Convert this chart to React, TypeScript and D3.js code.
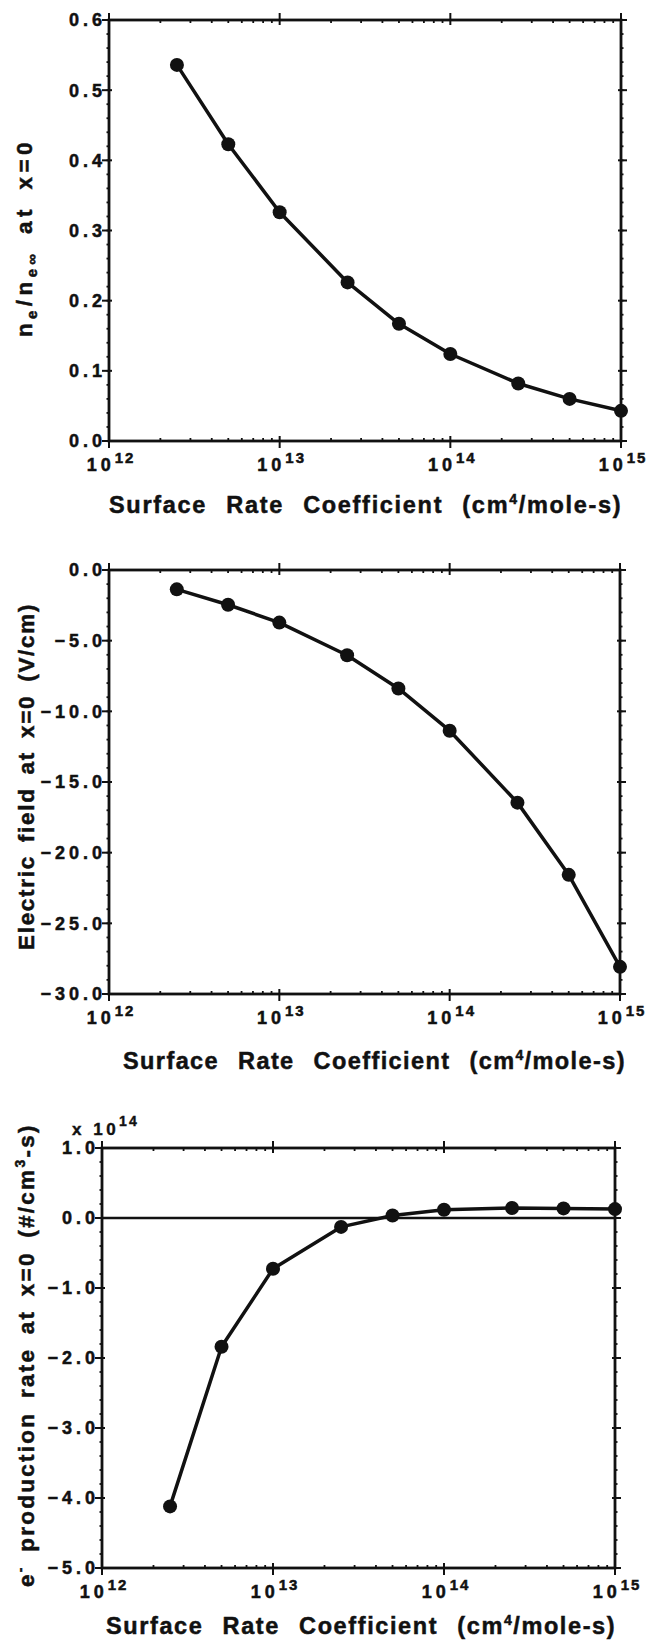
import React from 'react';
import * as d3 from 'd3';

// ---- data ----
const rateCoefficients = [2.5e12, 5e12, 1e13, 2.5e13, 5e13, 1e14, 2.5e14, 5e14, 1e15];
const densityRatio = [0.536, 0.423, 0.326, 0.226, 0.167, 0.124, 0.082, 0.06, 0.043];
const electricField = [-1.37, -2.46, -3.72, -6.03, -8.38, -11.37, -16.46, -21.57, -28.08];
const productionRate = [-4.12, -1.84, -0.726, -0.127, 0.036, 0.117, 0.142, 0.137, 0.127]; // x 1e14
const xDecades = [1e12, 1e13, 1e14, 1e15];
const xDecadeExponents = ['12', '13', '14', '15'];
const ticksDensity = [0, 0.1, 0.2, 0.3, 0.4, 0.5, 0.6];
const ticksField = [0, -5, -10, -15, -20, -25, -30];
const ticksRate = [1, 0, -1, -2, -3, -4, -5];

const FONT = "'Liberation Sans', Arial, Helvetica, sans-serif";

type PanelProps = {
  box: { left: number; right: number; top: number; bottom: number };
  yDomain: [number, number];
  yTicks: number[];
  values: number[];
  yLabel: React.ReactNode;
  yLabelX: number;
  yLabelSpan: [number, number];
  titleY: number;
  titleX: [number, number];
  zeroLine?: boolean;
  multiplier?: boolean;
};

function Panel({ box, yDomain, yTicks, values, yLabel, yLabelX, yLabelSpan, titleY, titleX, zeroLine, multiplier }: PanelProps) {
  const x = d3.scaleLog().domain([1e12, 1e15]).range([box.left, box.right]);
  const y = d3.scaleLinear().domain(yDomain).range([box.bottom, box.top]);
  const line = d3
    .line<number>()
    .x((_, i) => x(rateCoefficients[i]))
    .y((d) => y(d));
  const minorX: number[] = [];
  for (let e = 12; e < 15; e++) for (let m = 2; m <= 9; m++) minorX.push(m * Math.pow(10, e));
  const step = Math.abs(yTicks[1] - yTicks[0]) / 5;
  const minorY: number[] = [];
  const [ylo, yhi] = yDomain;
  for (let k = 0; ylo + k * step <= yhi + 1e-9; k++) minorY.push(ylo + k * step);
  const fmt = d3.format('.1f');
  const ink = '#111';
  return (
    <g fontFamily={FONT} fontWeight="bold" fill={ink}>
      {/* frame */}
      <rect x={box.left} y={box.top} width={box.right - box.left} height={box.bottom - box.top} fill="none" stroke={ink} strokeWidth={2.8} />
      {zeroLine && (
        <line x1={box.left} x2={box.right} y1={y(0)} y2={y(0)} stroke={ink} strokeWidth={2.4} />
      )}
      {/* y minor ticks */}
      {minorY.map((t, i) => (
        <g key={'ym' + i}>
          <line x1={box.left - 2.5} x2={box.left + 1} y1={y(t)} y2={y(t)} stroke={ink} strokeWidth={1.8} />
          <line x1={box.right - 1} x2={box.right + 2.5} y1={y(t)} y2={y(t)} stroke={ink} strokeWidth={1.8} />
        </g>
      ))}
      {/* y major ticks */}
      {yTicks.map((t) => (
        <g key={'yt' + t}>
          <line x1={box.left - 7} x2={box.left + 3} y1={y(t)} y2={y(t)} stroke={ink} strokeWidth={2} />
          <line x1={box.right - 3} x2={box.right + 6} y1={y(t)} y2={y(t)} stroke={ink} strokeWidth={2} />
          <text
            x={box.left - 3}
            y={y(t)}
            dy="0.36em"
            textAnchor="end"
            fontSize={18}
            letterSpacing={4}
            stroke={ink}
            strokeWidth={0.5}
          >
            {fmt(t)}
          </text>
        </g>
      ))}
      {/* x minor ticks */}
      {minorX.map((t, i) => (
        <g key={'xm' + i}>
          <line x1={x(t)} x2={x(t)} y1={box.bottom - 3} y2={box.bottom + 1} stroke={ink} strokeWidth={1.8} />
          <line x1={x(t)} x2={x(t)} y1={box.top - 1} y2={box.top + 3} stroke={ink} strokeWidth={1.8} />
        </g>
      ))}
      {/* x major ticks */}
      {xDecades.map((t, i) => (
        <g key={'xt' + t}>
          <line x1={x(t)} x2={x(t)} y1={box.bottom - 5} y2={box.bottom + 7} stroke={ink} strokeWidth={2} />
          <line x1={x(t)} x2={x(t)} y1={box.top - 7} y2={box.top + 5} stroke={ink} strokeWidth={2} />
          <text
            x={x(t) + 2}
            y={box.bottom + 30}
            textAnchor="middle"
            fontSize={18}
            letterSpacing={4}
            stroke={ink}
            strokeWidth={0.5}
          >
            10
            <tspan dy={-8} fontSize={15} letterSpacing={2}>
              {xDecadeExponents[i]}
            </tspan>
          </text>
        </g>
      ))}
      {/* data */}
      <path d={line(values) || ''} fill="none" stroke={ink} strokeWidth={3.5} strokeLinejoin="round" />
      {values.map((v, i) => (
        <circle key={'p' + i} cx={x(rateCoefficients[i])} cy={y(v)} r={7} fill={ink} />
      ))}
      {multiplier && (
        <text
          x={box.left - 30}
          y={box.top - 13}
          fontSize={17}
          letterSpacing={3.5}
          stroke={ink}
          strokeWidth={0.4}
        >
          x 10
          <tspan dy={-9} fontSize={14} letterSpacing={2}>
            14
          </tspan>
        </text>
      )}
      {/* x title */}
      <text
        x={titleX[0]}
        y={titleY}
        fontSize={23.5}
        letterSpacing={1.4}
        wordSpacing={11}
        textLength={titleX[1] - titleX[0]}
        lengthAdjust="spacing"
        stroke={ink}
        strokeWidth={0.5}
      >
        Surface Rate Coefficient (cm
        <tspan dy={-9} fontSize={14}>
          4
        </tspan>
        <tspan dy={9}>/mole-s)</tspan>
      </text>
      {/* y title */}
      <text
        transform={`translate(${yLabelX},${yLabelSpan[1]}) rotate(-90)`}
        fontSize={22.5}
        letterSpacing={2.5}
        wordSpacing={5}
        textLength={yLabelSpan[1] - yLabelSpan[0]}
        lengthAdjust="spacing"
        stroke={ink}
        strokeWidth={0.5}
      >
        {yLabel}
      </text>
    </g>
  );
}

export default function App() {
  return (
    <svg
      width={649}
      height={1647}
      viewBox="0 0 649 1647"
      style={{ position: 'absolute', left: 0, top: 0, background: '#fff' }}
    >
      <rect width={649} height={1647} fill="#fff" />
      <Panel
        box={{ left: 109, right: 621, top: 20, bottom: 441 }}
        yDomain={[0, 0.6]}
        yTicks={ticksDensity}
        values={densityRatio}
        yLabelX={32}
        yLabelSpan={[140, 337]}
        titleY={513}
        titleX={[109, 622]}
        yLabel={
          <>
            n
            <tspan dy={5} fontSize={15}>e</tspan>
            <tspan dy={-5}>/n</tspan>
            <tspan dy={5} fontSize={15}>e∞</tspan>
            <tspan dy={-5}> at x=0</tspan>
          </>
        }
      />
      <Panel
        box={{ left: 109, right: 620, top: 570, bottom: 994 }}
        yDomain={[-30, 0]}
        yTicks={ticksField}
        values={electricField}
        yLabelX={34}
        yLabelSpan={[602, 950]}
        titleY={1069}
        titleX={[123, 626]}
        yLabel={<>Electric field at x=0 (V/cm)</>}
      />
      <Panel
        box={{ left: 102, right: 615, top: 1148, bottom: 1568 }}
        yDomain={[-5, 1]}
        yTicks={ticksRate}
        values={productionRate}
        yLabelX={34}
        yLabelSpan={[1123, 1587]}
        titleY={1634}
        titleX={[106, 616]}
        zeroLine
        multiplier
        yLabel={
          <>
            e
            <tspan dy={-9} fontSize={14}>-</tspan>
            <tspan dy={9}> production rate at x=0 (#/cm</tspan>
            <tspan dy={-9} fontSize={14}>3</tspan>
            <tspan dy={9}>-s)</tspan>
          </>
        }
      />
    </svg>
  );
}
